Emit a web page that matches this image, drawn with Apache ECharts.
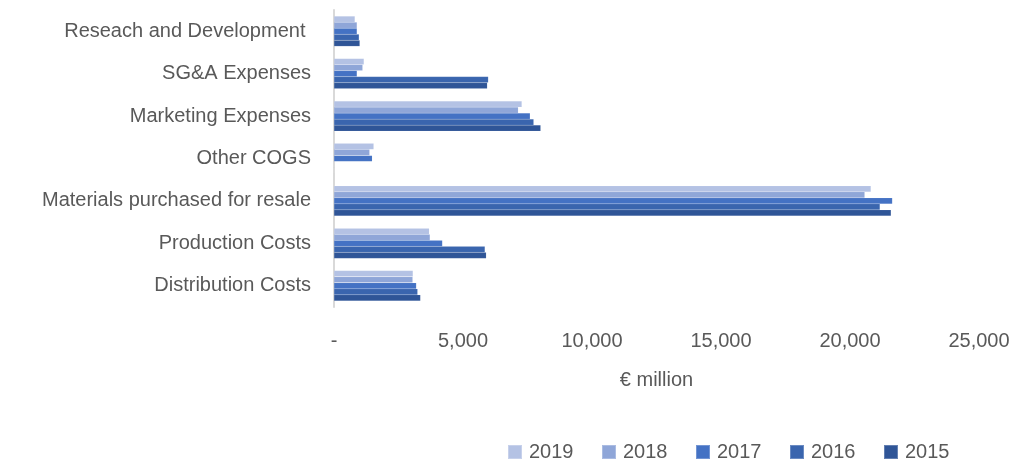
<!DOCTYPE html>
<html>
<head>
<meta charset="utf-8">
<script src="https://cdn.jsdelivr.net/npm/echarts@6/dist/echarts.min.js"></script>
<style>
  html, body { margin: 0; padding: 0; background: #fff; }
  #chart { width: 1018px; height: 461px; }
</style>
</head>
<body>
<div id="chart"></div>
<script>
// Cost categories, listed top to bottom
const categories = [
  'Reseach and Development ',
  'SG&A Expenses',
  'Marketing Expenses',
  'Other COGS',
  'Materials purchased for resale',
  'Production Costs',
  'Distribution Costs'
];

// Yearly values, € million, in the same category order
const years = ['2019', '2018', '2017', '2016', '2015'];
const values2019 = [810, 1160, 7280, 1540, 20810, 3690, 3060];
const values2018 = [890, 1110, 7140, 1380, 20570, 3720, 3050];
const values2017 = [890, 890, 7600, 1480, 21640, 4200, 3190];
const values2016 = [970, 5980, 7740, 0, 21160, 5850, 3240];
const values2015 = [1000, 5940, 8010, 0, 21590, 5900, 3350];

// Value axis ticks
const tickMin = 0;
const tickMax = 25000;
const tickStep = 5000;

const seriesValues = [values2019, values2018, values2017, values2016, values2015];
const colors = ['#b4c2e4', '#8fa6d8', '#4472c4', '#3a65ae', '#2f5597'];

const FONT = 'Liberation Sans';
const TEXT = '#595959';

const chart = echarts.init(document.getElementById('chart'), null, { renderer: 'canvas' });

chart.setOption({
  animation: false,
  color: colors,
  grid: { left: 334, right: 39, top: 10, bottom: 154, containLabel: false },
  xAxis: {
    type: 'value',
    min: tickMin,
    max: tickMax,
    interval: tickStep,
    axisLine: { show: false },
    axisTick: { show: false },
    splitLine: { show: false },
    axisLabel: {
      margin: 24,
      color: TEXT,
      fontFamily: FONT,
      fontSize: 20,
      formatter: v => v === 0 ? '-' : v.toLocaleString('en-US')
    },
    name: '€ million',
    nameLocation: 'middle',
    nameGap: 63,
    nameTextStyle: { color: TEXT, fontFamily: FONT, fontSize: 20 }
  },
  yAxis: {
    type: 'category',
    inverse: true,
    data: categories,
    axisLine: { show: true, lineStyle: { color: '#d9d9d9', width: 2 } },
    axisTick: { show: false },
    axisLabel: {
      margin: 23,
      color: TEXT,
      fontFamily: FONT,
      fontSize: 20
    }
  },
  legend: {
    data: years,
    left: 502,
    top: 437,
    icon: 'rect',
    itemWidth: 14,
    itemHeight: 14,
    itemGap: 27.5,
    textStyle: { color: TEXT, fontFamily: FONT, fontSize: 20, padding: [0, 0, 0, 2] }
  },
  series: years.map((y, i) => ({
    name: y,
    type: 'bar',
    data: seriesValues[i],
    barGap: '0%',
    barCategoryGap: '29%',
    itemStyle: { borderColor: 'rgba(255,255,255,0.25)', borderWidth: 0.3 }
  }))
});
</script>
</body>
</html>
